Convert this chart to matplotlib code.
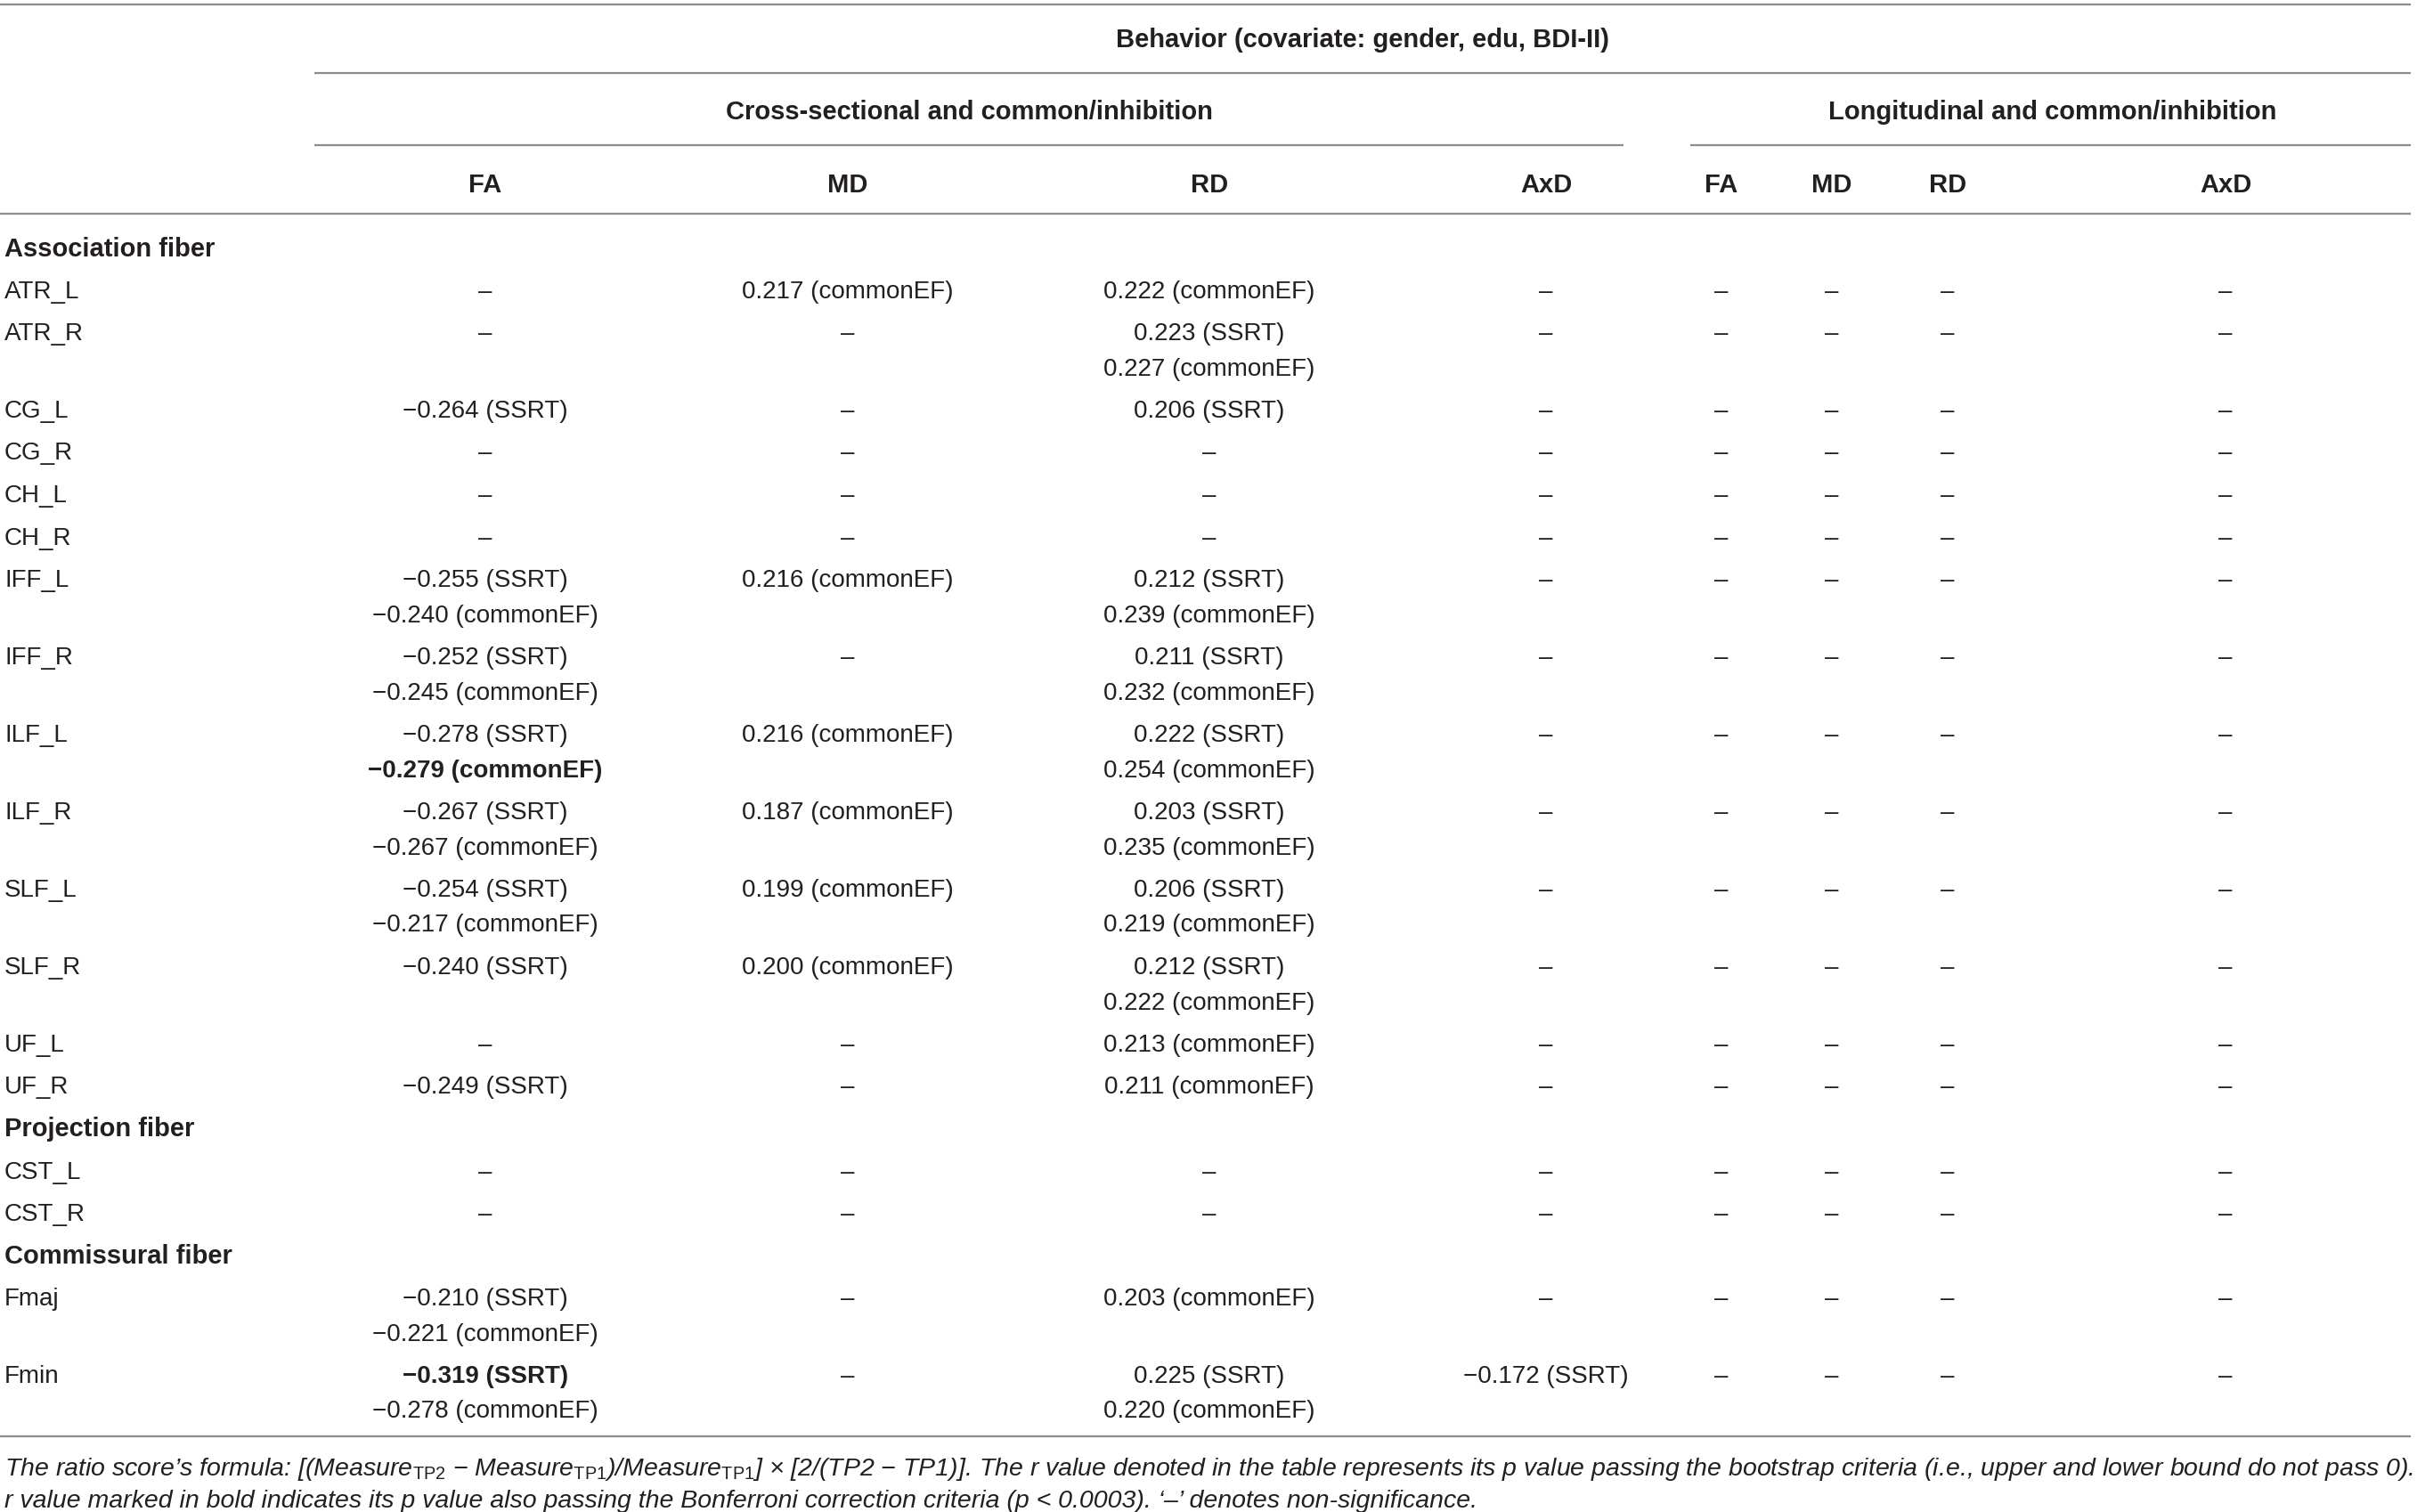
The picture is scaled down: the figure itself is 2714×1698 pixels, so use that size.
import matplotlib
matplotlib.use("Agg")
import matplotlib.pyplot as plt

plt.rcParams['font.family'] = ['Liberation Sans', 'DejaVu Sans']
plt.rcParams['mathtext.fontset'] = 'custom'
plt.rcParams['mathtext.rm'] = 'Liberation Sans'
plt.rcParams['mathtext.it'] = 'Liberation Sans:italic'
plt.rcParams['mathtext.bf'] = 'Liberation Sans:bold'

# table content
title = "Behavior (covariate: gender, edu, BDI-II)"
group_titles = ["Cross-sectional and common/inhibition", "Longitudinal and common/inhibition"]
col_heads = ["FA", "MD", "RD", "AxD", "FA", "MD", "RD", "AxD"]

sections = ["Association fiber", "Projection fiber", "Commissural fiber"]
section_rows = [
    ["ATR_L", "ATR_R", "CG_L", "CG_R", "CH_L", "CH_R", "IFF_L", "IFF_R",
     "ILF_L", "ILF_R", "SLF_L", "SLF_R", "UF_L", "UF_R"],
    ["CST_L", "CST_R"],
    ["Fmaj", "Fmin"],
]

D = "\u2013"
M = "\u2212"
fa_cross = [D, D, M + "0.264 (SSRT)", D, D, D,
            M + "0.255 (SSRT)\n" + M + "0.240 (commonEF)",
            M + "0.252 (SSRT)\n" + M + "0.245 (commonEF)",
            M + "0.278 (SSRT)\n" + M + "0.279 (commonEF)",
            M + "0.267 (SSRT)\n" + M + "0.267 (commonEF)",
            M + "0.254 (SSRT)\n" + M + "0.217 (commonEF)",
            M + "0.240 (SSRT)", D, M + "0.249 (SSRT)",
            D, D,
            M + "0.210 (SSRT)\n" + M + "0.221 (commonEF)",
            M + "0.319 (SSRT)\n" + M + "0.278 (commonEF)"]
md_cross = ["0.217 (commonEF)", D, D, D, D, D, "0.216 (commonEF)", D,
            "0.216 (commonEF)", "0.187 (commonEF)", "0.199 (commonEF)",
            "0.200 (commonEF)", D, D, D, D, D, D]
rd_cross = ["0.222 (commonEF)", "0.223 (SSRT)\n0.227 (commonEF)", "0.206 (SSRT)", D, D, D,
            "0.212 (SSRT)\n0.239 (commonEF)", "0.211 (SSRT)\n0.232 (commonEF)",
            "0.222 (SSRT)\n0.254 (commonEF)", "0.203 (SSRT)\n0.235 (commonEF)",
            "0.206 (SSRT)\n0.219 (commonEF)", "0.212 (SSRT)\n0.222 (commonEF)",
            "0.213 (commonEF)", "0.211 (commonEF)", D, D,
            "0.203 (commonEF)", "0.225 (SSRT)\n0.220 (commonEF)"]
axd_cross = [D] * 17 + [M + "0.172 (SSRT)"]
fa_long = [D] * 18
md_long = [D] * 18
rd_long = [D] * 18
axd_long = [D] * 18

columns = [fa_cross, md_cross, rd_cross, axd_cross, fa_long, md_long, rd_long, axd_long]
# (row, column, line) of values passing Bonferroni
bold_cells = {("ILF_L", 0, 1), ("Fmin", 0, 0)}

note1 = ("The ratio score\u2019s formula: [(Measure$_{\\mathrm{TP2}}$ " + M + " Measure$_{\\mathrm{TP1}}$)/Measure$_{\\mathrm{TP1}}$] "
         "\u00d7 [2/(TP2 " + M + " TP1)]. The r value denoted in the table represents its p value passing the "
         "bootstrap criteria (i.e., upper and lower bound do not pass 0).")
note2 = ("r value marked in bold indicates its p value also passing the Bonferroni correction criteria "
         "(p < 0.0003). \u2018" + D + "\u2019 denotes non-significance.")

# layout (pixels)
W, H = 2714, 1698
col_x = [545, 952, 1358, 1736, 1933, 2057, 2187, 2499]
fs = 20
fs_head = 21
txt = "#231f20"
rule = "#8c8c8c"

fig = plt.figure(figsize=(W / 100, H / 100), dpi=100)
ax = fig.add_axes([0, 0, 1, 1])
ax.set_xlim(0, W)
ax.set_ylim(H, 0)
ax.axis("off")

def put(x, y, s, ha="center", weight="normal", style="normal", size=fs):
    # y is the visual centre of the text line
    ax.text(x, y + size / 2, s, ha=ha, va="baseline", fontsize=size, color=txt,
            fontweight=weight, fontstyle=style)

def hline(y, x0, x1):
    ax.plot([x0, x1], [y, y], color=rule, lw=1.6, solid_capstyle="butt")

hline(5, 0, 2707)
put(1530, 42, title, weight="bold", size=fs_head)
hline(82, 353, 2707)
put(1088, 123, group_titles[0], weight="bold", size=fs_head)
put(2305, 123, group_titles[1], weight="bold", size=fs_head)
hline(163, 353, 1823)
hline(163, 1898, 2707)
for x, h in zip(col_x, col_heads):
    put(x, 205, h, weight="bold", size=fs_head)
hline(240, 0, 2707)

y = 277
k = 0
line_gap = 39.5
row_gap = 47.5
for sec, rows in zip(sections, section_rows):
    put(5, y, sec, ha="left", weight="bold", size=fs_head)
    y += row_gap
    for r in rows:
        put(5, y, r, ha="left")
        nmax = 1
        for c, col in enumerate(columns):
            lines = col[k].split("\n")
            nmax = max(nmax, len(lines))
            for j, s in enumerate(lines):
                w = "bold" if (r, c, j) in bold_cells else "normal"
                put(col_x[c], y + j * line_gap, s, weight=w)
        y += (nmax - 1) * line_gap + row_gap
        k += 1

hline(1613, 0, 2707)
put(5, 1647, note1, ha="left", style="italic", size=20.5)
put(5, 1683, note2, ha="left", style="italic", size=20.5)

fig.savefig("out.png", dpi=100)
